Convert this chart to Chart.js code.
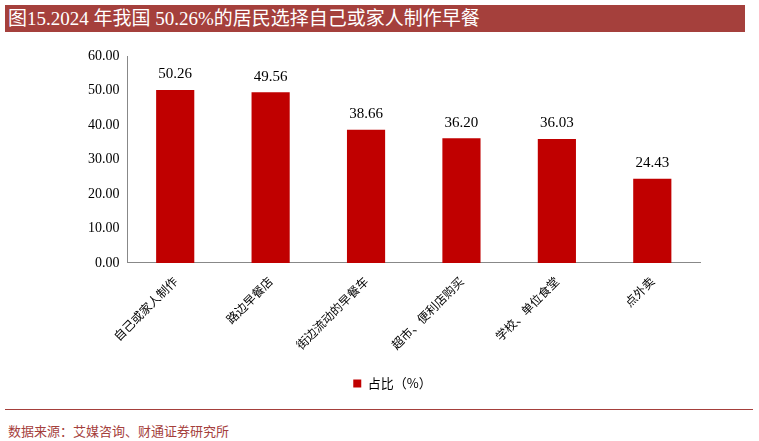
<!DOCTYPE html>
<html><head><meta charset="utf-8">
<script src="https://cdn.jsdelivr.net/npm/chart.js@4"></script>
<style>
body{margin:0;width:759px;height:441px;background:#fff;position:relative;overflow:hidden;font-family:"Liberation Serif","Noto Sans CJK SC",serif}
#title{position:absolute;left:5px;top:5px;width:737px;height:27px;background:#A5403C;color:#fff;font-size:19px;line-height:27px;padding-left:3px}
#line{position:absolute;left:5px;top:409px;width:748px;height:1px;background:#A5403C}
#src{position:absolute;left:8px;top:421px;font-size:13px;color:#A5403C;font-family:"Noto Sans CJK SC",sans-serif}
#wrap{position:absolute;left:85px;top:45px;width:655px;height:355px}
</style></head><body>
<div id="title">图15.2024 年我国 50.26%的居民选择自己或家人制作早餐</div>
<div id="wrap"><canvas id="c"></canvas></div>
<div id="line"></div>
<div id="src">数据来源：艾媒咨询、财通证券研究所</div>
<script>
const categories = ['自己或家人制作','路边早餐店','街边流动的早餐车','超市、便利店购买','学校、单位食堂','点外卖'];
const shares = [50.26,49.56,38.66,36.20,36.03,24.43];
const seriesName = '占比（%）';

const labelPlugin = {
  id: 'vals',
  afterDatasetsDraw(chart) {
    const ctx = chart.ctx;
    ctx.save();
    ctx.font = '15px "Liberation Serif"';
    ctx.fillStyle = '#000';
    ctx.textAlign = 'center';
    ctx.textBaseline = 'bottom';
    chart.getDatasetMeta(0).data.forEach((b, i) => {
      ctx.fillText(shares[i].toFixed(2), b.x, b.y - 8);
    });
    ctx.restore();
  }
};

new Chart(document.getElementById('c'), {
  type: 'bar',
  data: { labels: categories, datasets: [{ label: seriesName, data: shares, backgroundColor: '#C00000', barPercentage: 0.4, categoryPercentage: 1 }] },
  options: {
    responsive: true, maintainAspectRatio: false, animation: false,
    layout: { padding: { top: 2, right: 40 } },
    plugins: {
      legend: { position: 'bottom', labels: { boxWidth: 8, boxHeight: 8, padding: 22, color: '#000', font: { size: 13, family: '"Noto Sans CJK SC"' } } },
      tooltip: { enabled: false }
    },
    scales: {
      y: { min: 0, max: 60, ticks: { stepSize: 10, callback: v => v.toFixed(2), color: '#000', font: { size: 14, family: '"Liberation Serif"' } },
           grid: { display: false, drawTicks: true, tickLength: 5 }, border: { color: '#888' } },
      x: { ticks: { maxRotation: 45, minRotation: 45, color: '#000', font: { size: 12, family: '"Noto Sans CJK SC"' } },
           grid: { display: false }, border: { color: '#888' } }
    }
  },
  plugins: [labelPlugin]
});
</script>
</body></html>
